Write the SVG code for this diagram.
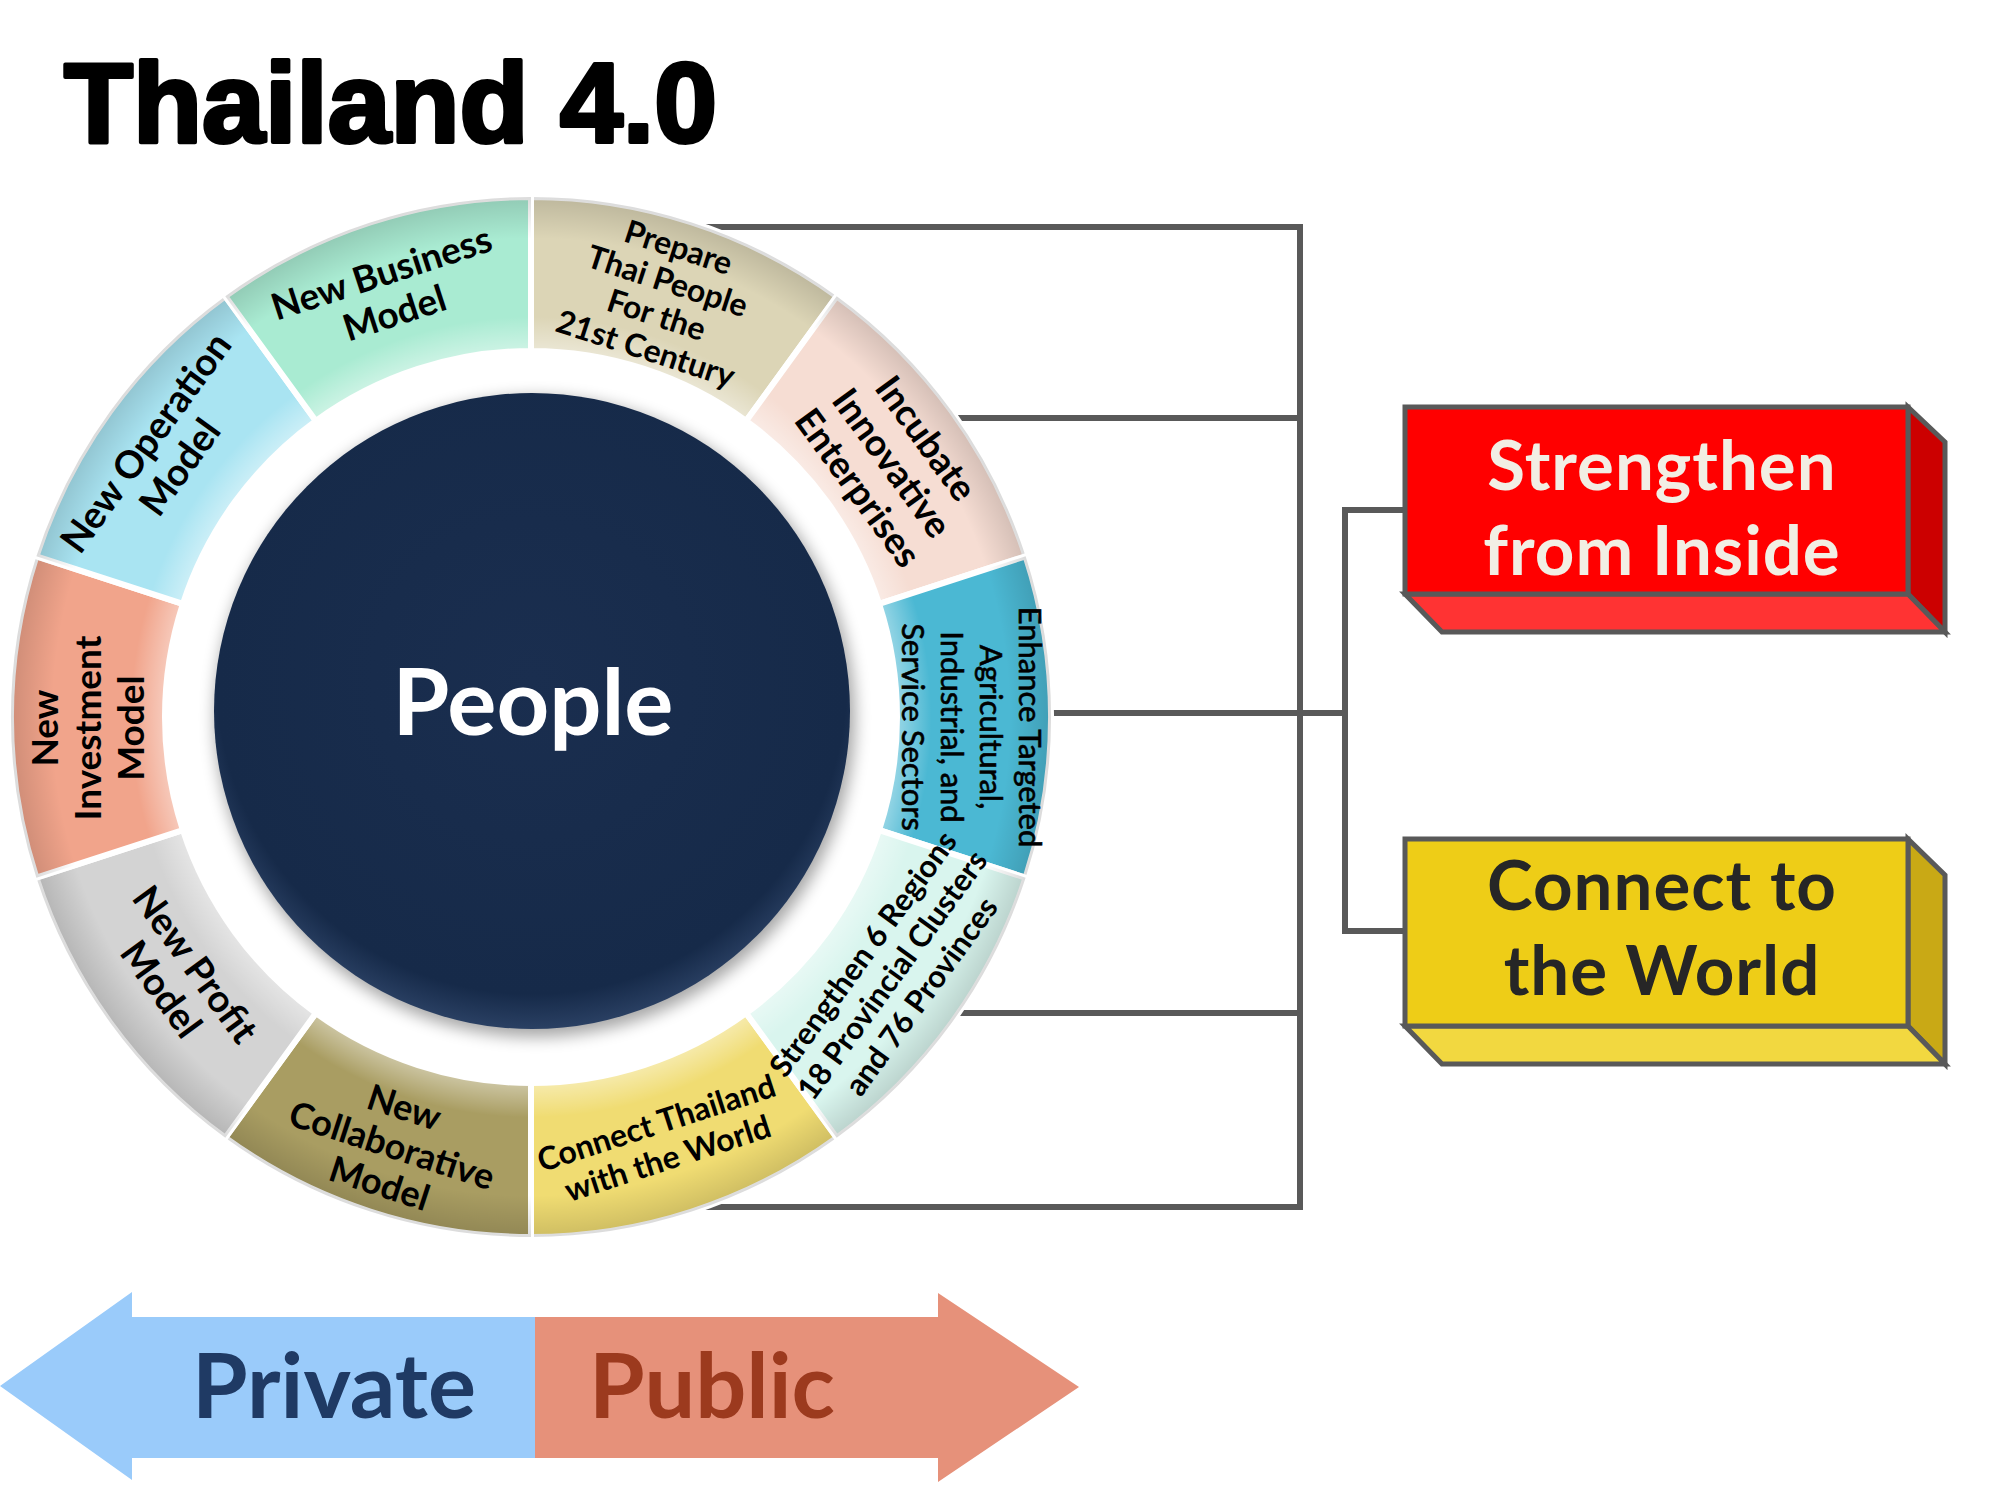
<svg xmlns="http://www.w3.org/2000/svg" width="2000" height="1500" viewBox="0 0 2000 1500">
<defs>
  <style>
    .conn { fill: none; stroke: #595959; stroke-width: 6; stroke-linecap: square; stroke-linejoin: miter; }
    .seg { stroke: #ffffff; stroke-width: 6; stroke-linejoin: miter; }
    .bev { fill: url(#tube); stroke: none; }
    .lbl { font-family: Lato, "Liberation Sans", sans-serif; font-weight: 700; fill: #000000; text-anchor: middle; }
    .lblr { font-family: Lato, "Liberation Sans", sans-serif; font-weight: 400; fill: #000000; stroke: #000000; stroke-width: 0.6; text-anchor: middle; }
    .box { stroke: #595959; stroke-width: 5; stroke-linejoin: miter; }
    .boxt { font-family: Lato, "Liberation Sans", sans-serif; font-weight: 700; font-size: 69px; letter-spacing: 1px; text-anchor: middle; }
    .arrt { font-family: Lato, "Liberation Sans", sans-serif; font-weight: 700; font-size: 90px; text-anchor: middle; }
  </style>
  <radialGradient id="tube" gradientUnits="userSpaceOnUse" cx="531" cy="717" r="520">
    <stop offset="0.70" stop-color="#ffffff" stop-opacity="0.45"/>
    <stop offset="0.77" stop-color="#ffffff" stop-opacity="0"/>
    <stop offset="0.92" stop-color="#000000" stop-opacity="0"/>
    <stop offset="1" stop-color="#000000" stop-opacity="0.14"/>
  </radialGradient>
  <radialGradient id="hub" cx="0.5" cy="0.45" r="0.55">
    <stop offset="0" stop-color="#1a2e4f"/>
    <stop offset="0.9" stop-color="#162a49"/>
    <stop offset="1" stop-color="#2a4063"/>
  </radialGradient>
  <filter id="blur" x="-20%" y="-20%" width="140%" height="140%">
    <feGaussianBlur stdDeviation="8"/>
  </filter>
</defs>
<rect x="0" y="0" width="2000" height="1500" fill="#ffffff"/>

<g id="title">
  <text x="64" y="142" font-family="Liberation Sans, Arial, sans-serif" font-weight="700" font-size="113" fill="#000" stroke="#000" stroke-width="4" stroke-linejoin="round">Thailand 4.0</text>
</g>

<g id="connectors">
  <path class="conn" d="M650,227 H1300 V1207 H640"/>
  <path class="conn" d="M850,418 H1300"/>
  <path class="conn" d="M950,713 H1345"/>
  <path class="conn" d="M850,1013 H1300"/>
  <path class="conn" d="M1405,510 H1345 V931 H1405"/>
</g>

<g id="ring">
  <g id="seg-prepare">
    <path class="seg" fill="#dcd5b6" d="M531,197 A520,520 0 0 1 836.7,296.3 L746.1,420.9 A366,366 0 0 0 531,351 Z"/>
    <path class="bev" d="M531,197 A520,520 0 0 1 836.7,296.3 L746.1,420.9 A366,366 0 0 0 531,351 Z"/>
    <g transform="translate(662,298) rotate(18)">
      <text class="lbl" font-size="32" x="0" y="-42">Prepare</text>
      <text class="lbl" font-size="32" x="0" y="-6.5">Thai People</text>
      <text class="lbl" font-size="32" x="0" y="29">For the</text>
      <text class="lbl" font-size="32" x="0" y="64.5">21st Century</text>
    </g>
  </g>
  <g id="seg-incubate">
    <path class="seg" fill="#f6ddd3" d="M836.7,296.3 A520,520 0 0 1 1025.6,556.3 L879.1,603.9 A366,366 0 0 0 746.1,420.9 Z"/>
    <path class="bev" d="M836.7,296.3 A520,520 0 0 1 1025.6,556.3 L879.1,603.9 A366,366 0 0 0 746.1,420.9 Z"/>
    <g transform="translate(892,463) rotate(54)">
      <text class="lbl" font-size="37" x="0" y="-29">Incubate</text>
      <text class="lbl" font-size="37" x="0" y="13">Innovative</text>
      <text class="lbl" font-size="37" x="0" y="55">Enterprises</text>
    </g>
  </g>
  <g id="seg-enhance">
    <path class="seg" fill="#4bb8d3" d="M1025.6,556.3 A520,520 0 0 1 1025.6,877.7 L879.1,830.1 A366,366 0 0 0 879.1,603.9 Z"/>
    <path class="bev" d="M1025.6,556.3 A520,520 0 0 1 1025.6,877.7 L879.1,830.1 A366,366 0 0 0 879.1,603.9 Z"/>
    <g transform="translate(971,727) rotate(90)">
      <text class="lblr" font-size="31" x="0" y="-47.5">Enhance Targeted</text>
      <text class="lblr" font-size="31" x="0" y="-8.5">Agricultural,</text>
      <text class="lblr" font-size="31" x="0" y="30.5">Industrial, and</text>
      <text class="lblr" font-size="31" x="0" y="69.5">Service Sectors</text>
    </g>
  </g>
  <g id="seg-connect">
    <path class="seg" fill="#f0dc72" d="M836.7,1137.7 A520,520 0 0 1 531,1237 L531,1083 A366,366 0 0 0 746.1,1013.1 Z"/>
    <path class="bev" d="M836.7,1137.7 A520,520 0 0 1 531,1237 L531,1083 A366,366 0 0 0 746.1,1013.1 Z"/>
    <g transform="translate(662,1141) rotate(-18)">
      <text class="lbl" font-size="32" x="0" y="-7.5">Connect Thailand</text>
      <text class="lbl" font-size="32" x="0" y="29.5">with the World</text>
    </g>
  </g>
  <g id="seg-collab">
    <path class="seg" fill="#a99d62" d="M531,1237 A520,520 0 0 1 225.3,1137.7 L315.9,1013.1 A366,366 0 0 0 531,1083 Z"/>
    <path class="bev" d="M531,1237 A520,520 0 0 1 225.3,1137.7 L315.9,1013.1 A366,366 0 0 0 531,1083 Z"/>
    <g transform="translate(392,1145) rotate(18)">
      <text class="lbl" font-size="36" x="0" y="-27">New</text>
      <text class="lbl" font-size="36" x="0" y="13">Collaborative</text>
      <text class="lbl" font-size="36" x="0" y="53">Model</text>
    </g>
  </g>
  <g id="seg-profit">
    <path class="seg" fill="#d3d3d3" d="M225.3,1137.7 A520,520 0 0 1 36.4,877.7 L182.9,830.1 A366,366 0 0 0 315.9,1013.1 Z"/>
    <path class="bev" d="M225.3,1137.7 A520,520 0 0 1 36.4,877.7 L182.9,830.1 A366,366 0 0 0 315.9,1013.1 Z"/>
    <g transform="translate(178,977) rotate(54)">
      <text class="lbl" font-size="38" x="0" y="-8">New Profit</text>
      <text class="lbl" font-size="38" x="0" y="34">Model</text>
    </g>
  </g>
  <g id="seg-investment">
    <path class="seg" fill="#f1a48b" d="M36.4,877.7 A520,520 0 0 1 36.4,556.3 L182.9,603.9 A366,366 0 0 0 182.9,830.1 Z"/>
    <path class="bev" d="M36.4,877.7 A520,520 0 0 1 36.4,556.3 L182.9,603.9 A366,366 0 0 0 182.9,830.1 Z"/>
    <g transform="translate(88,728) rotate(-90)">
      <text class="lbl" font-size="37" x="0" y="-30">New</text>
      <text class="lbl" font-size="37" x="0" y="13">Investment</text>
      <text class="lbl" font-size="37" x="0" y="56">Model</text>
    </g>
  </g>
  <g id="seg-operation">
    <path class="seg" fill="#a9e4f2" d="M36.4,556.3 A520,520 0 0 1 225.3,296.3 L315.9,420.9 A366,366 0 0 0 182.9,603.9 Z"/>
    <path class="bev" d="M36.4,556.3 A520,520 0 0 1 225.3,296.3 L315.9,420.9 A366,366 0 0 0 182.9,603.9 Z"/>
    <g transform="translate(163,455) rotate(-54)">
      <text class="lbl" font-size="38" x="0" y="-8">New Operation</text>
      <text class="lbl" font-size="38" x="0" y="34">Model</text>
    </g>
  </g>
  <g id="seg-business">
    <path class="seg" fill="#a9ebd2" d="M225.3,296.3 A520,520 0 0 1 531,197 L531,351 A366,366 0 0 0 315.9,420.9 Z"/>
    <path class="bev" d="M225.3,296.3 A520,520 0 0 1 531,197 L531,351 A366,366 0 0 0 315.9,420.9 Z"/>
    <g transform="translate(388,293) rotate(-18)">
      <text class="lbl" font-size="37" x="0" y="-8">New Business</text>
      <text class="lbl" font-size="37" x="0" y="34">Model</text>
    </g>
  </g>
  <g id="seg-strengthen">
    <path class="seg" fill="#d9f5ee" d="M1025.6,877.7 A520,520 0 0 1 836.7,1137.7 L746.1,1013.1 A366,366 0 0 0 879.1,830.1 Z"/>
    <path class="bev" d="M1025.6,877.7 A520,520 0 0 1 836.7,1137.7 L746.1,1013.1 A366,366 0 0 0 879.1,830.1 Z"/>
    <g transform="translate(892,975) rotate(-54)">
      <text class="lbl" font-size="31" x="0" y="-25">Strengthen 6 Regions</text>
      <text class="lbl" font-size="31" x="0" y="11">18 Provincial Clusters</text>
      <text class="lbl" font-size="31" x="0" y="47">and 76 Provinces</text>
    </g>
  </g>
</g>

<g id="people">
  <circle cx="535" cy="717" r="320" fill="#000000" opacity="0.35" filter="url(#blur)"/>
  <circle cx="532" cy="711" r="318" fill="url(#hub)"/>
  <text x="533" y="735" font-family="Lato, 'Liberation Sans', sans-serif" font-weight="700" font-size="92" fill="#ffffff" text-anchor="middle">People</text>
</g>

<g id="box-inside">
  <polygon class="box" fill="#cc0000" points="1908,407 1945,442 1945,632 1908,594"/>
  <polygon class="box" fill="#ff3333" points="1405,594 1908,594 1945,632 1442,632"/>
  <rect class="box" fill="#ff0000" x="1405" y="407" width="503" height="187"/>
  <text class="boxt" fill="#f2eee4" x="1662" y="490">Strengthen</text>
  <text class="boxt" fill="#f2eee4" x="1662" y="575">from Inside</text>
</g>

<g id="box-world">
  <polygon class="box" fill="#c9a915" points="1908,839 1945,875 1945,1064 1908,1026"/>
  <polygon class="box" fill="#f2d840" points="1405,1026 1908,1026 1945,1064 1442,1064"/>
  <rect class="box" fill="#eecd17" x="1405" y="839" width="503" height="187"/>
  <text class="boxt" fill="#262626" x="1662" y="910">Connect to</text>
  <text class="boxt" fill="#262626" x="1662" y="995">the World</text>
</g>

<g id="arrow">
  <polygon fill="#9acbfa" points="0,1386 132,1292 132,1317 536,1317 536,1458 132,1458 132,1480"/>
  <polygon fill="#e6917a" points="535,1317 938,1317 938,1293 1079,1387 938,1482 938,1458 535,1458"/>
  <text class="arrt" fill="#1f3a64" x="334" y="1418">Private</text>
  <text class="arrt" fill="#9c3a1e" x="712" y="1418">Public</text>
</g>
</svg>
